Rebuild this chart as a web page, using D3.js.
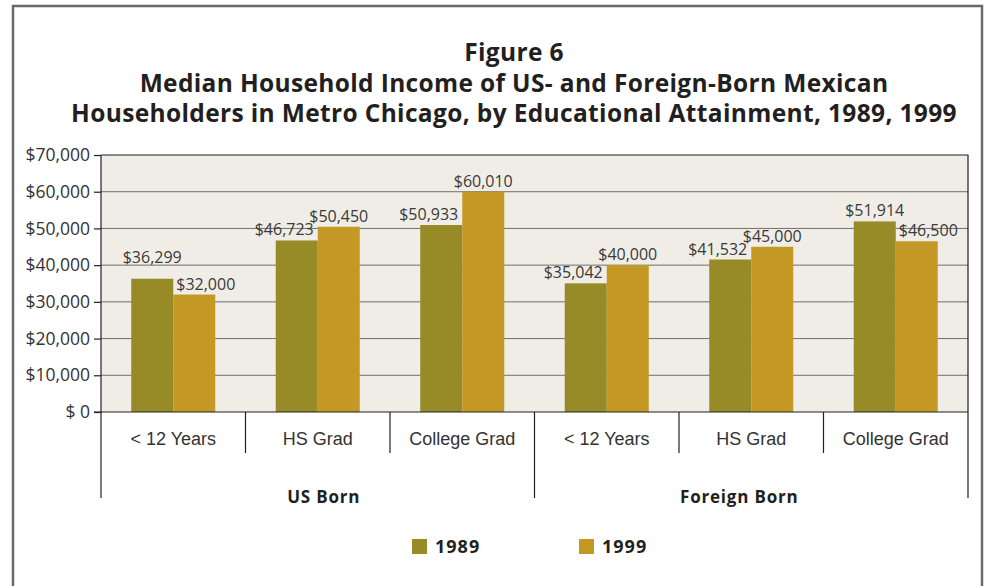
<!DOCTYPE html>
<html>
<head>
<meta charset="utf-8">
<script src="https://cdn.jsdelivr.net/npm/d3@7"></script>
<style>
  body { margin: 0; background: #fff; }
  text { font-family: "Open Sans", sans-serif; fill: #231f20; }
</style>
</head>
<body>
<script>
const titleLines = ['Figure 6',
  'Median Household Income of US- and Foreign-Born Mexican',
  'Householders in Metro Chicago, by Educational Attainment, 1989, 1999']
const groups = ['US Born', 'Foreign Born']
const categories = ['< 12 Years', 'HS Grad', 'College Grad']
const years = ['1989', '1999']
const income1989 = [36299, 46723, 50933, 35042, 41532, 51914]
const income1999 = [32000, 50450, 60010, 40000, 45000, 46500]
const yTicks = [0, 10000, 20000, 30000, 40000, 50000, 60000, 70000]
const colors = ['#978b28', '#c49824']

const width = 984
const height = 586
const plot = {left: 101, right: 968, top: 155, bottom: 412}

// one row per bar cluster
const rows = []
groups.forEach((g, gi) => categories.forEach((c, ci) => {
  const i = gi * categories.length + ci
  rows.push({key: g + '|' + c, group: g, cat: c, values: [income1989[i], income1999[i]]})
}))

const svg = d3.select('body').append('svg').attr('width', width).attr('height', height)

// outer frame
svg.append('rect').attr('x', 13).attr('y', 6).attr('width', 969).attr('height', 620)
  .attr('fill', 'none').attr('stroke', '#6a6a6a').attr('stroke-width', 2.5)

svg.selectAll('.title').data(titleLines).enter().append('text')
  .attr('class', 'title')
  .attr('x', 514)
  .attr('y', (d, i) => 61 + i * 30.5)
  .attr('text-anchor', 'middle')
  .style('font-weight', 700)
  .style('font-size', '24.5px')
  .style('letter-spacing', '0.35px')
  .text(d => d)

const x = d3.scaleBand().domain(rows.map(r => r.key)).range([plot.left, plot.right])
const x1 = d3.scaleBand().domain(years).range([0, x.bandwidth()]).paddingOuter(0.72)
const y = d3.scaleLinear().domain([0, 70000]).range([plot.bottom, plot.top])

svg.append('rect').attr('x', plot.left).attr('y', plot.top)
  .attr('width', plot.right - plot.left).attr('height', plot.bottom - plot.top)
  .attr('fill', '#f0ede7')

svg.selectAll('.grid').data(yTicks.filter(t => t > 0 && t < 70000)).enter().append('line')
  .attr('class', 'grid')
  .attr('x1', plot.left).attr('x2', plot.right)
  .attr('y1', d => y(d)).attr('y2', d => y(d))
  .attr('stroke', '#6f6f6f').attr('stroke-width', 1)

// bars
const cluster = svg.selectAll('.cluster').data(rows).enter().append('g')
  .attr('class', 'cluster')
  .attr('transform', d => `translate(${x(d.key)},0)`)

cluster.selectAll('rect').data(d => d.values.map((v, i) => ({year: years[i], v: v}))).enter().append('rect')
  .attr('x', d => x1(d.year))
  .attr('y', d => y(d.v))
  .attr('width', x1.bandwidth())
  .attr('height', d => y(0) - y(d.v))
  .attr('fill', (d, i) => colors[i])

// value labels, nudged away from the taller neighbour
cluster.each(function(r) {
  const g = d3.select(this)
  const [a, b] = r.values
  r.values.forEach((v, i) => {
    const bx = x1(years[i])
    let tx = bx + x1.bandwidth() / 2, anchor = 'middle'
    let ty = y(v) - 5
    if (i === 0 && b > a) { tx = bx + x1.bandwidth() - 4; anchor = 'end' }
    if (i === 1 && a > b) { tx = bx + 3; anchor = 'start' }
    // lift a centred label when it would crowd the neighbour's label
    if (i === 0 && a > b && y(b) - y(a) < 18) ty -= 11
    g.append('text')
      .attr('x', tx)
      .attr('y', ty)
      .attr('text-anchor', anchor)
      .style('font-size', '16px')
      .style('fill', '#3a3a3a')
      .text('$' + d3.format(',')(v))
  })
})

// plot border top/right
svg.append('path')
  .attr('d', `M${plot.left},${plot.top}H${plot.right}V${plot.bottom}`)
  .attr('fill', 'none').attr('stroke', '#231f20').attr('stroke-width', 1.2)

const yAxis = d3.axisLeft(y).tickValues(yTicks).tickSize(7).tickPadding(4)
  .tickFormat(d => d === 0 ? '$ 0' : '$' + d3.format(',')(d))
svg.append('g')
  .attr('transform', `translate(${plot.left},0)`)
  .call(yAxis)
  .call(g => g.selectAll('text').style('font-size', '17.5px').style('fill', '#333').attr('font-family', null))
  .call(g => g.selectAll('line,path').attr('stroke', '#231f20').attr('stroke-width', 1.2))
  .call(g => g.select('.domain').attr('d', `M0,${plot.top}V${plot.bottom}`))

// x axis line
svg.append('line')
  .attr('x1', plot.left - 7).attr('x2', plot.right)
  .attr('y1', plot.bottom).attr('y2', plot.bottom)
  .attr('stroke', '#231f20').attr('stroke-width', 1.2)

// dividers between categories and groups
const edges = rows.map(r => x(r.key)).concat([plot.right])
svg.selectAll('.divider').data(edges).enter().append('line')
  .attr('class', 'divider')
  .attr('x1', d => d).attr('x2', d => d)
  .attr('y1', plot.bottom)
  .attr('y2', (d, i) => i % categories.length === 0 ? 498 : 453)
  .attr('stroke', '#231f20').attr('stroke-width', 1.2)

svg.selectAll('.cat').data(rows).enter().append('text')
  .attr('class', 'cat')
  .attr('x', d => x(d.key) + x.bandwidth() / 2)
  .attr('y', 445)
  .attr('text-anchor', 'middle')
  .style('font-family', '"Liberation Sans", Arial, sans-serif')
  .style('font-size', '18px')
  .style('fill', '#333')
  .text(d => d.cat)

svg.selectAll('.grp').data(groups).enter().append('text')
  .attr('class', 'grp')
  .attr('x', (d, i) => {
    const keys = rows.filter(r => r.group === d).map(r => r.key)
    return (x(keys[0]) + x(keys[keys.length - 1]) + x.bandwidth()) / 2 + (i === 0 ? 6 : -12)
  })
  .attr('y', 503)
  .attr('text-anchor', 'middle')
  .style('font-weight', 700)
  .style('font-size', '17px')
  .style('letter-spacing', '0.8px')
  .text(d => d)

// legend
const legend = svg.selectAll('.legend').data(years).enter().append('g')
  .attr('class', 'legend')
  .attr('transform', (d, i) => `translate(${412 + i * 167},539)`)
legend.append('rect').attr('width', 15).attr('height', 15).attr('fill', (d, i) => colors[i])
legend.append('text').attr('x', 23).attr('y', 14)
  .style('font-weight', 700).style('font-size', '18px').style('letter-spacing', '1px')
  .text(d => d)
</script>
</body>
</html>
